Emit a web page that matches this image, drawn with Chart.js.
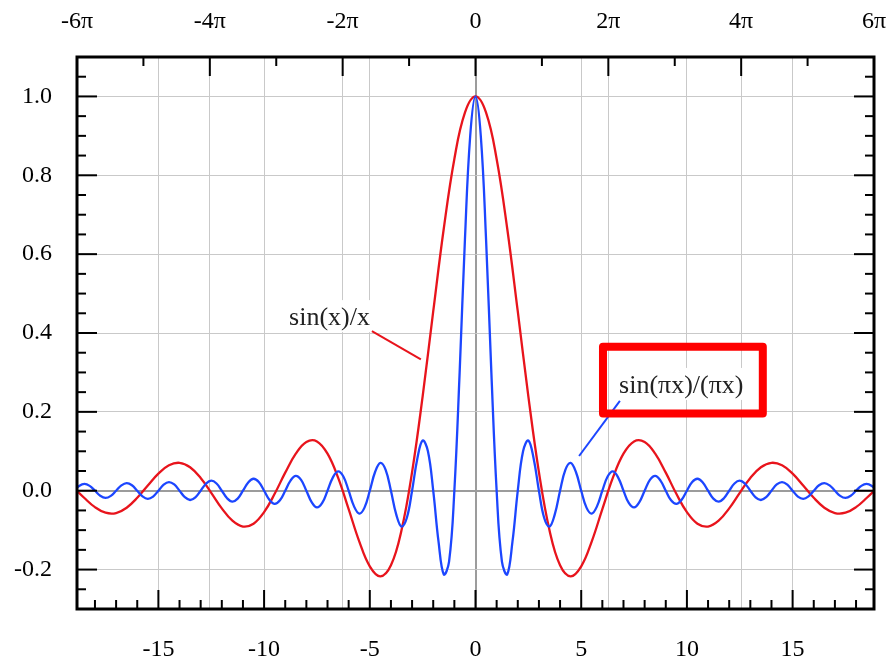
<!DOCTYPE html>
<html lang="en">
<head>
<meta charset="UTF-8" />
<title>sinc</title>
<script src="https://cdn.jsdelivr.net/npm/chart.js@4.4.1/dist/chart.umd.min.js"></script>
<style>
  html, body { margin: 0; padding: 0; background: #fff; }
</style>
</head>
<body>
<canvas id="sincChart" width="886" height="662"></canvas>
<script>
// sin(x)/x read every 0.5
const redX = [-19, -18.5, -18, -17.5, -17, -16.5, -16, -15.5, -15, -14.5, -14, -13.5, -13, -12.5, -12, -11.5, -11, -10.5, -10, -9.5,
  -9, -8.5, -8, -7.5, -7, -6.5, -6, -5.5, -5, -4.5, -4, -3.5, -3, -2.5, -2, -1.5, -1, -0.5, 0,
  0.5, 1, 1.5, 2, 2.5, 3, 3.5, 4, 4.5, 5, 5.5, 6, 6.5, 7, 7.5, 8, 8.5, 9, 9.5, 10,
  10.5, 11, 11.5, 12, 12.5, 13, 13.5, 14, 14.5, 15, 15.5, 16, 16.5, 17, 17.5, 18, 18.5, 19];
const redY = [0.0079, -0.0185, -0.0417, -0.0558, -0.0566, -0.0431, -0.0180, 0.0133, 0.0434, 0.0645, 0.0708, 0.0595, 0.0323, -0.0053, -0.0447, -0.0761, -0.0909, -0.0838, -0.0544, -0.0079,
  0.0458, 0.0939, 0.1237, 0.1251, 0.0939, 0.0331, -0.0466, -0.1283, -0.1918, -0.2172, -0.1892, -0.1002, 0.0470, 0.2394, 0.4546, 0.6650, 0.8415, 0.9589, 1,
  0.9589, 0.8415, 0.6650, 0.4546, 0.2394, 0.0470, -0.1002, -0.1892, -0.2172, -0.1918, -0.1283, -0.0466, 0.0331, 0.0939, 0.1251, 0.1237, 0.0939, 0.0458, -0.0079, -0.0544,
  -0.0838, -0.0909, -0.0761, -0.0447, -0.0053, 0.0323, 0.0595, 0.0708, 0.0645, 0.0434, 0.0133, -0.0180, -0.0431, -0.0566, -0.0558, -0.0417, -0.0185, 0.0079];

// sin(pi x)/(pi x) read every 0.25
const blueX = [-19, -18.75, -18.5, -18.25, -18, -17.75, -17.5, -17.25, -17, -16.75, -16.5, -16.25, -16, -15.75, -15.5, -15.25,
  -15, -14.75, -14.5, -14.25, -14, -13.75, -13.5, -13.25, -13, -12.75, -12.5, -12.25, -12, -11.75, -11.5, -11.25,
  -11, -10.75, -10.5, -10.25, -10, -9.75, -9.5, -9.25, -9, -8.75, -8.5, -8.25, -8, -7.75, -7.5, -7.25,
  -7, -6.75, -6.5, -6.25, -6, -5.75, -5.5, -5.25, -5, -4.75, -4.5, -4.25, -4, -3.75, -3.5, -3.25,
  -3, -2.75, -2.5, -2.25, -2, -1.75, -1.5, -1.25, -1, -0.75, -0.5, -0.25, 0,
  0.25, 0.5, 0.75, 1, 1.25, 1.5, 1.75, 2, 2.25, 2.5, 2.75, 3, 3.25, 3.5, 3.75, 4,
  4.25, 4.5, 4.75, 5, 5.25, 5.5, 5.75, 6, 6.25, 6.5, 6.75, 7, 7.25, 7.5, 7.75, 8,
  8.25, 8.5, 8.75, 9, 9.25, 9.5, 9.75, 10, 10.25, 10.5, 10.75, 11, 11.25, 11.5, 11.75, 12,
  12.25, 12.5, 12.75, 13, 13.25, 13.5, 13.75, 14, 14.25, 14.5, 14.75, 15, 15.25, 15.5, 15.75, 16,
  16.25, 16.5, 16.75, 17, 17.25, 17.5, 17.75, 18, 18.25, 18.5, 18.75, 19];
const blueY = [0, 0.0120, 0.0172, 0.0123, 0, -0.0127, -0.0182, -0.0130, 0, 0.0134, 0.0193, 0.0139, 0, -0.0143, -0.0205, -0.0148,
  0, 0.0153, 0.0220, 0.0158, 0, -0.0164, -0.0236, -0.0170, 0, 0.0177, 0.0255, 0.0184, 0, -0.0192, -0.0277, -0.0200,
  0, 0.0209, 0.0303, 0.0220, 0, -0.0231, -0.0335, -0.0243, 0, 0.0257, 0.0374, 0.0273, 0, -0.0290, -0.0424, -0.0310,
  0, 0.0333, 0.0490, 0.0360, 0, -0.0391, -0.0579, -0.0429, 0, 0.0474, 0.0707, 0.0530, 0, -0.0600, -0.0909, -0.0693,
  0, 0.0818, 0.1273, 0.1000, 0, -0.1286, -0.2122, -0.1801, 0, 0.3001, 0.6366, 0.9003, 1,
  0.9003, 0.6366, 0.3001, 0, -0.1801, -0.2122, -0.1286, 0, 0.1000, 0.1273, 0.0818, 0, -0.0693, -0.0909, -0.0600, 0,
  0.0530, 0.0707, 0.0474, 0, -0.0429, -0.0579, -0.0391, 0, 0.0360, 0.0490, 0.0333, 0, -0.0310, -0.0424, -0.0290, 0,
  0.0273, 0.0374, 0.0257, 0, -0.0243, -0.0335, -0.0231, 0, 0.0220, 0.0303, 0.0209, 0, -0.0200, -0.0277, -0.0192, 0,
  0.0184, 0.0255, 0.0177, 0, -0.0170, -0.0236, -0.0164, 0, 0.0158, 0.0220, 0.0153, 0, -0.0148, -0.0205, -0.0143, 0,
  0.0139, 0.0193, 0.0134, 0, -0.0130, -0.0182, -0.0127, 0, 0.0123, 0.0172, 0.0120, 0];

// axes
const PI = Math.PI;
const bottomTicks = [-15, -10, -5, 0, 5, 10, 15];
const topTicks = [-6 * PI, -4 * PI, -2 * PI, 0, 2 * PI, 4 * PI, 6 * PI];
const topLabels = ['-6π', '-4π', '-2π', '0', '2π', '4π', '6π'];
const yTicks = [-0.2, 0, 0.2, 0.4, 0.6, 0.8, 1.0];

const red = '#e8141c';
const blue = '#1c46ff';

Chart.defaults.font.family = "'Liberation Serif', 'Times New Roman', serif";
Chart.defaults.color = '#000';

const isZero = c => c.tick && Math.abs(c.tick.value) < 1e-9;
const grid = {
  color: c => isZero(c) ? '#9c9c9c' : '#c9c9c9',
  lineWidth: c => isZero(c) ? 2 : 1,
  drawTicks: false
};

// ticks pointing inward, the frame and the two labels
const decorPlugin = {
  id: 'decor',
  afterDatasetsDraw(chart) {
    const { ctx, chartArea: a, scales } = chart;
    const sx = scales.x, sy = scales.y;
    const px = v => sx.getPixelForValue(v);
    const py = v => sy.getPixelForValue(v);
    ctx.save();

    // labels
    ctx.font = "26px 'Liberation Serif', 'Times New Roman', serif";
    ctx.textBaseline = 'alphabetic';
    const label = (text, x, y) => {
      const w = ctx.measureText(text).width;
      ctx.fillStyle = '#fff';
      ctx.fillRect(px(x) - 4, py(y) - 25, w + 8, 32);
      ctx.fillStyle = '#222';
      ctx.fillText(text, px(x), py(y));
    };
    const pointer = (color, x1, y1, x2, y2) => {
      ctx.strokeStyle = color;
      ctx.lineWidth = 2;
      ctx.beginPath();
      ctx.moveTo(px(x1), py(y1));
      ctx.lineTo(px(x2), py(y2));
      ctx.stroke();
    };
    label('sin(x)/x', -8.82, 0.42);
    pointer(red, -4.9, 0.405, -2.585, 0.333);
    label('sin(πx)/(πx)', 6.79, 0.248);
    pointer(blue, 6.83, 0.228, 4.9, 0.088);
    ctx.strokeStyle = '#f00';
    ctx.lineWidth = 8;
    ctx.lineJoin = 'round';
    ctx.strokeRect(px(6.03), py(0.365), px(13.59) - px(6.03), py(0.196) - py(0.365));

    // tick marks
    ctx.strokeStyle = '#000';
    ctx.lineWidth = 2;
    ctx.lineJoin = 'miter';
    const tick = (x1, y1, x2, y2) => {
      ctx.beginPath();
      ctx.moveTo(x1, y1);
      ctx.lineTo(x2, y2);
      ctx.stroke();
    };
    for (let v = -18; v <= 18; v++) {
      const len = v % 5 === 0 ? 19 : 9;
      tick(px(v), a.bottom, px(v), a.bottom - len);
    }
    for (let k = -5; k <= 5; k++) {
      const len = k % 2 === 0 ? 19 : 9;
      tick(px(k * PI), a.top, px(k * PI), a.top + len);
    }
    for (let k = -5; k <= 21; k++) {
      const v = k * 0.05;
      const len = k % 4 === 0 ? 20 : 9;
      tick(a.left, py(v), a.left + len, py(v));
      tick(a.right, py(v), a.right - len, py(v));
    }

    // frame
    ctx.lineWidth = 3;
    ctx.strokeRect(a.left, a.top, a.right - a.left, a.bottom - a.top);
    ctx.restore();
  }
};

new Chart(document.getElementById('sincChart'), {
  type: 'line',
  data: {
    datasets: [
      {
        label: 'sin(πx)/(πx)',
        data: blueX.map((x, i) => ({ x: x, y: blueY[i] })),
        borderColor: blue,
        borderWidth: 2.3,
        pointRadius: 0,
        tension: 0.4,
        fill: false
      },
      {
        label: 'sin(x)/x',
        data: redX.map((x, i) => ({ x: x, y: redY[i] })),
        borderColor: red,
        borderWidth: 2.3,
        pointRadius: 0,
        tension: 0.4,
        fill: false
      }
    ]
  },
  options: {
    responsive: false,
    animation: false,
    plugins: { legend: { display: false }, tooltip: { enabled: false } },
    scales: {
      x: {
        type: 'linear',
        position: 'bottom',
        min: -6 * PI,
        max: 6 * PI,
        afterBuildTicks: s => { s.ticks = bottomTicks.map(v => ({ value: v })); },
        afterFit: s => { s.height = 53; s.paddingLeft = 0; s.paddingRight = 0; },
        grid: grid,
        border: { display: false },
        ticks: { autoSkip: false, maxRotation: 0, padding: 26, font: { size: 24 }, callback: v => String(v) }
      },
      xTop: {
        type: 'linear',
        position: 'top',
        min: -6 * PI,
        max: 6 * PI,
        afterBuildTicks: s => { s.ticks = topTicks.map(v => ({ value: v })); },
        afterFit: s => { s.height = 57; s.paddingLeft = 0; s.paddingRight = 0; },
        grid: grid,
        border: { display: false },
        ticks: { autoSkip: false, maxRotation: 0, padding: 21, font: { size: 24 }, callback: (v, i) => topLabels[i] }
      },
      y: {
        type: 'linear',
        position: 'left',
        min: -0.3,
        max: 1.1,
        afterBuildTicks: s => { s.ticks = yTicks.map(v => ({ value: v })); },
        afterFit: s => { s.width = 77; s.paddingTop = 0; s.paddingBottom = 0; },
        grid: grid,
        border: { display: false },
        ticks: { padding: 25, font: { size: 24 }, callback: v => v.toFixed(1) }
      },
      yRight: {
        type: 'linear',
        position: 'right',
        min: -0.3,
        max: 1.1,
        afterFit: s => { s.width = 12; s.paddingTop = 0; s.paddingBottom = 0; },
        grid: { display: false },
        border: { display: false },
        ticks: { display: false }
      }
    }
  },
  plugins: [decorPlugin]
});
</script>
</body>
</html>
